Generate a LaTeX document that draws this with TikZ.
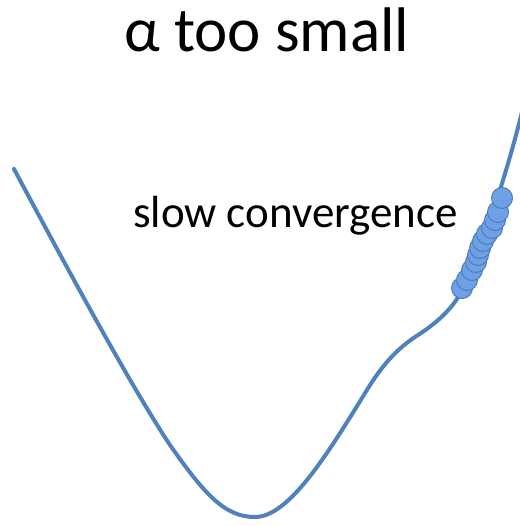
\documentclass[tikz,border=0pt]{standalone}
\usepackage{fontspec}
\setmainfont{Carlito}
\usepackage{tikz}
\usetikzlibrary{positioning}
\definecolor{curveblue}{RGB}{79, 129, 189}
\definecolor{stepblue}{RGB}{111, 160, 230}
\definecolor{stepedge}{RGB}{74, 126, 187}

\begin{document}
\begin{tikzpicture}[
          x=1pt, y=-1pt,
          % image coordinates, y pointing down
          costcurve/.style={curveblue, line width=4pt, line cap=round},
          stepdot/.style={circle, draw=stepedge, fill=stepblue, line width=1pt, minimum size=21pt, inner sep=0pt},
          label/.style={anchor=base west, inner sep=0pt}
        ]
          \useasboundingbox (0,0) rectangle (519,526);
          \node[label, font=\fontsize{63}{72}\selectfont] (title) at (124,52) {α too small};
          \node[label, font=\fontsize{45}{54}\selectfont] (slow) at (133,228) {slow convergence};

          \draw[costcurve] (14,169) .. controls (60,255) and (130,385) .. (170,445)
            .. controls (205,495) and (225,517) .. (255,517)
            .. controls (290,517) and (330,450) .. (370,385)
            .. controls (385,362) and (398,348) .. (418,335)
            .. controls (440,321) and (455,305) .. (462,290)
            .. controls (480,255) and (505,180) .. (522,112);

          \foreach \x/\y [count=\i] in {462/288, 467/280, 472/270, 476/262, 478/255,
                                       480/248, 483/241, 487/234, 492/228, 495/220, 498/212, 502/198}
            \node[stepdot] (dot\i) at (\x,\y) {};
        \end{tikzpicture}
\end{document}
